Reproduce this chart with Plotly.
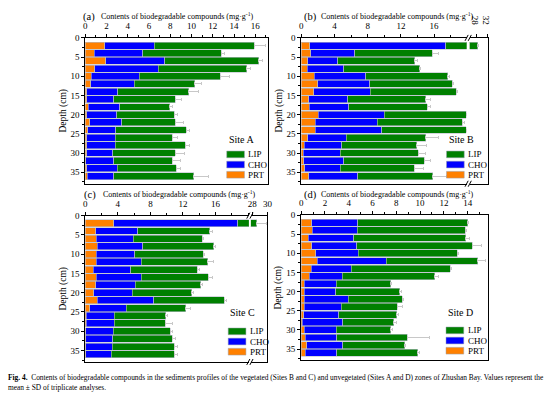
import plotly.graph_objects as go

# ---------------- data ----------------
depth = [2, 4, 6, 8, 10, 12, 14, 16, 18, 20, 22, 24, 26, 28, 30, 32, 34, 36]

a_prt = [1.83, 0.84, 1.92, 0.90, 0.56, 0.53, 0.15, 0.12, 0.28, 0.15, 0.40, 0.22, 0.12, 0.15, 0.12, 0.06, 0.15, 0.19]
a_cho = [4.64, 4.55, 5.57, 5.97, 4.52, 4.08, 2.92, 2.57, 2.97, 2.82, 3.04, 2.66, 2.70, 2.67, 2.48, 2.63, 2.85, 2.50]
a_lip = [9.43, 7.41, 8.81, 8.33, 7.62, 5.69, 6.65, 5.79, 4.68, 5.42, 5.04, 6.62, 5.35, 6.59, 5.88, 5.48, 5.58, 7.51]
a_sd = [1.1, 0.3, 0.4, 0.3, 0.9, 0.65, 0.9, 0.6, 0.25, 0.25, 0.8, 0.35, 0.5, 0.4, 0.9, 0.8, 0.4, 1.4]

b_prt = [1.03, 1.11, 0.75, 0.71, 1.58, 1.98, 1.47, 0.91, 0.95, 2.02, 1.70, 1.70, 0.79, 0.36, 0.24, 0.28, 0.40, 0.91]
b_cho = [16.36, 5.35, 3.65, 4.40, 6.18, 6.26, 6.85, 4.71, 4.75, 7.96, 7.45, 8.00, 4.60, 4.51, 4.47, 4.83, 4.31, 5.86]
b_lip = [10.91, 9.34, 9.26, 9.15, 9.86, 9.96, 10.38, 9.38, 9.47, 9.92, 10.22, 10.20, 9.58, 9.03, 9.39, 9.69, 8.91, 9.07]
b_sd = [0.2, 0.75, 0.3, 0.1, 0.25, 0.15, 0.1, 0.6, 0.4, 0.2, 0.25, 0.2, 1.6, 1.2, 0.9, 0.75, 1.15, 1.65]

c_prt = [3.47, 1.29, 1.37, 1.49, 1.37, 1.33, 0.97, 1.37, 1.29, 1.01, 1.49, 0.53, 0.12, 0.12, 0.08, 0.08, 0.08, 0.08]
c_cho = [15.28, 5.13, 4.53, 5.54, 4.73, 5.57, 4.61, 5.53, 4.85, 4.77, 6.95, 4.48, 3.44, 3.44, 3.35, 3.31, 3.23, 3.11]
c_lip = [9.82, 8.89, 8.48, 8.77, 8.40, 8.13, 8.20, 8.20, 8.04, 7.27, 8.61, 7.35, 6.30, 6.26, 7.03, 7.31, 7.59, 7.71]
c_sd = [1.3, 0.3, 0.2, 0.15, 0.2, 0.7, 0.25, 0.5, 0.2, 0.25, 0.3, 0.6, 0.2, 0.85, 0.2, 0.37, 0.37, 0.45]

d_prt = [0.89, 0.94, 0.61, 0.91, 1.22, 1.36, 0.83, 0.69, 0.28, 0.28, 0.28, 0.28, 0.22, 0.11, 0.28, 0.33, 0.47, 0.33]
d_cho = [3.87, 3.76, 3.82, 3.76, 3.59, 5.80, 3.37, 2.77, 2.68, 2.62, 3.70, 3.09, 2.93, 3.38, 2.68, 2.66, 3.04, 2.66]
d_lip = [9.24, 9.08, 9.40, 9.71, 8.30, 7.67, 8.33, 7.77, 4.56, 5.40, 4.51, 4.71, 4.87, 4.31, 4.56, 5.91, 5.20, 6.80]
d_sd = [0.1, 0.1, 0.3, 0.75, 0.1, 0.7, 0.1, 0.3, 0.1, 0.1, 0.1, 0.4, 0.2, 0.2, 0.15, 1.9, 0.1, 0.2]

components = ["PRT", "CHO", "LIP"]
legend_order = ["LIP", "CHO", "PRT"]
site_names = ["Site A", "Site B", "Site C", "Site D"]
panel_letters = ["(a)", "(b)", "(c)", "(d)"]
x_title = "Contents of biodegradable compounds (mg·g<sup>-1</sup>)"
y_title = "Depth (cm)"
y_ticks = [0, 5, 10, 15, 20, 25, 30, 35]
a_xticks = [0, 2, 4, 6, 8, 10, 12, 14, 16]
b_xticks = [0, 4, 8, 12, 16]
b_xticks_hi = [28, 32]
c_xticks = [0, 4, 8, 12, 16]
c_xticks_hi = [28, 30]
d_xticks = [0, 2, 4, 6, 8, 10, 12, 14]
caption1 = ("<b>Fig. 4.</b>  Contents of biodegradable compounds in the sediments profiles of the vegetated "
            "(Sites B and C) and unvegetated (Sites A and D) zones of Zhushan Bay. Values represent the")
caption2 = "mean ± SD of triplicate analyses."

# ---------------- styling ----------------
W, H = 554, 399
SERIF = "Liberation Serif, Times New Roman, serif"
colors = {"PRT": "#FF8000", "CHO": "#0000FF", "LIP": "#008000"}
BAR_W = 1.8


def px(x):
    return x / W


def py(y):
    return 1 - y / H


fig = go.Figure()

panel_data = [
    (a_prt, a_cho, a_lip, a_sd),
    (b_prt, b_cho, b_lip, b_sd),
    (c_prt, c_cho, c_lip, c_sd),
    (d_prt, d_cho, d_lip, d_sd),
]
panel_axes = [
    [("x", "y")],
    [("x2", "y2"), ("x3", "y3")],
    [("x4", "y4"), ("x5", "y5")],
    [("x6", "y6")],
]

for (prt, cho, lip, sd), axes in zip(panel_data, panel_axes):
    vals = {"PRT": prt, "CHO": cho, "LIP": lip}
    for xa, ya in axes:
        for comp in components:
            kw = {}
            if comp == "LIP":
                kw["error_x"] = dict(type="data", array=sd, arrayminus=[0] * len(sd), symmetric=False,
                                     color="#c8c8c8", thickness=1, width=1.5)
            fig.add_trace(go.Bar(
                x=vals[comp], y=depth, orientation="h", name=comp, xaxis=xa, yaxis=ya,
                width=BAR_W, marker=dict(color=colors[comp], line=dict(color="#b8bcc8", width=0.6)),
                showlegend=False, hoverinfo="skip", **kw))

tickfont = dict(family=SERIF, size=9, color="black")


def xax(domain, rng, tickvals, anchor, minor_dtick=None):
    d = dict(domain=domain, range=rng, side="top", anchor=anchor, showline=True, linecolor="black",
             linewidth=1, mirror=True, ticks="outside", ticklen=3, tickcolor="black", tickwidth=1,
             tickfont=tickfont, showgrid=False, zeroline=False, tickmode="array", tickvals=tickvals,
             ticklabelstandoff=1, fixedrange=True)
    if minor_dtick:
        d["minor"] = dict(dtick=minor_dtick, tick0=0, ticks="outside", ticklen=2, tickcolor="black")
    return d


def yax(domain, anchor, right=False):
    if right:
        return dict(domain=domain, range=[38, 0], anchor=anchor, side="right", showline=True,
                    linecolor="black", linewidth=1, ticks="", showticklabels=False, showgrid=False,
                    zeroline=False, fixedrange=True)
    return dict(domain=domain, range=[38, 0], anchor=anchor, showline=True, linecolor="black",
                linewidth=1, mirror=False, ticks="outside", ticklen=3, tickcolor="black",
                tickmode="array", tickvals=y_ticks, tickfont=tickfont, showgrid=False, zeroline=False,
                fixedrange=True,
                minor=dict(tickvals=[2.5 + 5 * i for i in range(8)], ticks="outside", ticklen=2,
                           tickcolor="black"),
                title=dict(text=y_title, font=dict(family=SERIF, size=9.5, color="black"), standoff=2))


top_dom = [py(181), py(33.3)]
bot_dom = [py(361.5), py(213.3)]

layout_axes = dict(
    xaxis=xax([px(83.5), px(269)], [0, 17.2], a_xticks, "y", minor_dtick=1),
    yaxis=yax(top_dom, "x"),
    xaxis2=xax([px(302.7), px(470.5)], [0, 19.93], b_xticks, "y2", minor_dtick=2),
    yaxis2=yax(top_dom, "x2"),
    xaxis3=xax([px(473.5), px(491.7)], [25.4, 32.0], b_xticks_hi, "y3"),
    yaxis3=yax(top_dom, "x3", right=True),
    xaxis4=xax([px(83.5), px(249.5)], [0, 20.1], c_xticks, "y4", minor_dtick=2),
    yaxis4=yax(bot_dom, "x4"),
    xaxis5=xax([px(251.5), px(268.3)], [27.81, 30.0], c_xticks_hi, "y5"),
    yaxis5=yax(bot_dom, "x5", right=True),
    xaxis6=xax([px(302.5), px(492)], [0, 15.7], d_xticks, "y6", minor_dtick=1),
    yaxis6=yax([py(360), py(212.7)], "x6"),
)
layout_axes["yaxis"]["mirror"] = True
layout_axes["yaxis6"]["mirror"] = True

annotations = []
shapes = []

title_pos = [(79, 97.3, 11.0), (303, 320.5, 11.0), (80, 99.3, 191.5), (303, 320.5, 191.0)]
for letter, (lx, tx, ty) in zip(panel_letters, title_pos):
    annotations.append(dict(text=letter, x=px(lx), y=py(ty + 1.2), xref="paper", yref="paper",
                            xanchor="left", yanchor="middle", showarrow=False,
                            font=dict(family=SERIF, size=10.5, color="black")))
    annotations.append(dict(text=x_title, x=px(tx), y=py(ty), xref="paper", yref="paper",
                            xanchor="left", yanchor="middle", showarrow=False,
                            font=dict(family=SERIF, size=8, color="black")))

legend_pos = [(227, 136.7, 151.3), (450, 136.7, 151.3), (228.5, 311, 330.5), (449.5, 311, 329.5)]
for site, (lx, sy, ly0) in zip(site_names, legend_pos):
    annotations.append(dict(text=site, x=px(lx), y=py(sy), xref="paper", yref="paper",
                            xanchor="left", yanchor="middle", showarrow=False,
                            font=dict(family=SERIF, size=10, color="black")))
    for i, comp in enumerate(legend_order):
        cy = ly0 + i * 10.3
        shapes.append(dict(type="rect", xref="paper", yref="paper", x0=px(lx), x1=px(lx + 18),
                           y0=py(cy + 3.4), y1=py(cy - 3.4), fillcolor=colors[comp],
                           line=dict(color="#9aa0b0", width=0.5)))
        annotations.append(dict(text=comp, x=px(lx + 20), y=py(cy), xref="paper", yref="paper",
                                xanchor="left", yanchor="middle", showarrow=False,
                                font=dict(family=SERIF, size=9, color="black")))

for bx, ytop, ybot in [(472, 33.3, 181), (250.5, 213.3, 361.5)]:
    for yy in (ytop, ybot):
        for off in (-1.6, 1.6):
            shapes.append(dict(type="line", xref="paper", yref="paper",
                               x0=px(bx + off - 1.6), y0=py(yy + 3), x1=px(bx + off + 1.6), y1=py(yy - 3),
                               line=dict(color="black", width=1)))

annotations.append(dict(text=caption1 + "<br>" + caption2, x=px(3), y=py(371), xref="paper",
                        yref="paper", xanchor="left", yanchor="top", align="left", showarrow=False,
                        font=dict(family=SERIF, size=7.4, color="black")))

fig.update_layout(
    width=W, height=H, margin=dict(l=0, r=0, t=0, b=0),
    paper_bgcolor="white", plot_bgcolor="white",
    barmode="stack", showlegend=False, hovermode=False,
    annotations=annotations, shapes=shapes,
    **layout_axes,
)

fig.write_html("out.html", config={"displayModeBar": False},
               post_script="document.body.style.margin='0px';")
